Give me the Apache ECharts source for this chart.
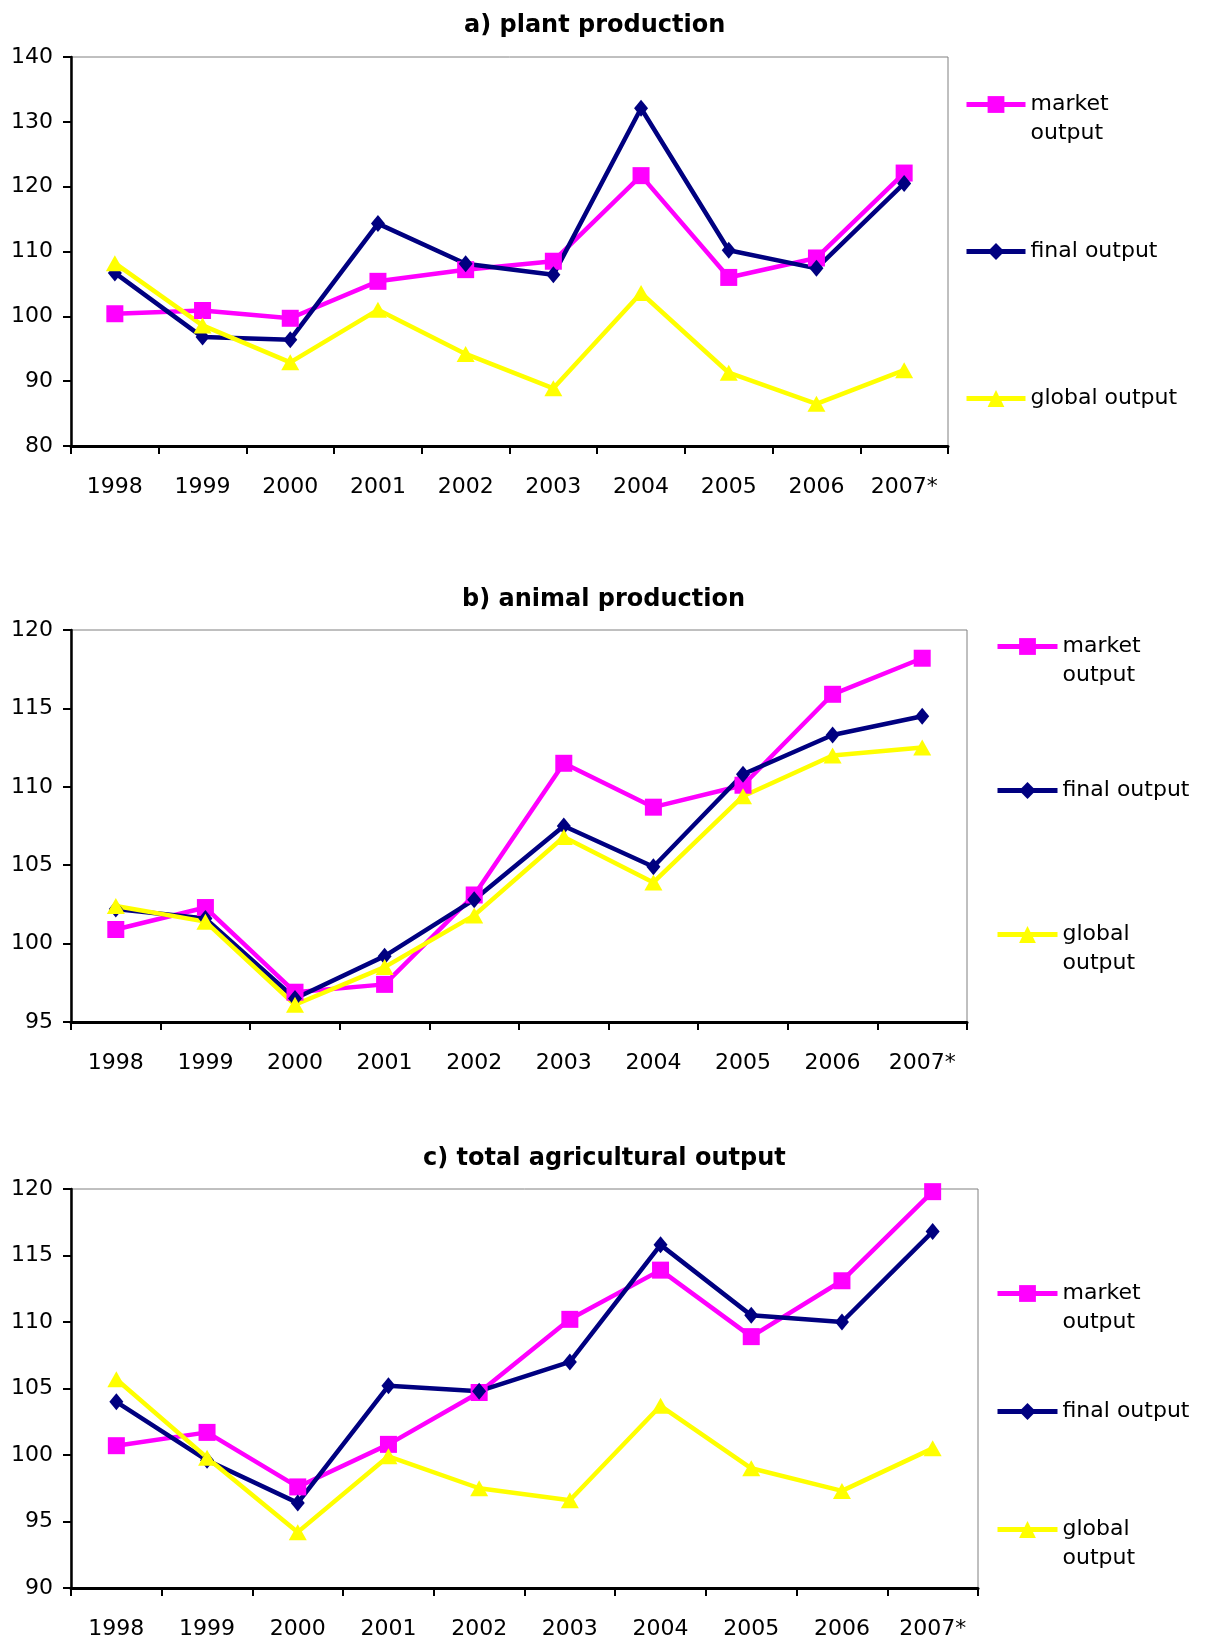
<!DOCTYPE html>
<html>
<head>
<meta charset="utf-8">
<script src="https://cdn.jsdelivr.net/npm/echarts@6/dist/echarts.min.js"></script>
<style>
html,body{margin:0;padding:0;background:#ffffff;}
#chart{width:1206px;height:1642px;}
</style>
</head>
<body>
<div id="chart"></div>
<script>
// ---- data ----
const years = ['1998','1999','2000','2001','2002','2003','2004','2005','2006','2007*'];

const panelTitles = ['a) plant production', 'b) animal production', 'c) total agricultural output'];
const seriesNames = ['market output', 'final output', 'global output'];

// a) plant production
const plantMarket = [100.4, 100.9, 99.7, 105.4, 107.2, 108.5, 121.7, 106.0, 109.0, 122.1];
const plantFinal  = [106.7, 96.8, 96.4, 114.3, 108.1, 106.4, 132.1, 110.2, 107.4, 120.5];
const plantGlobal = [108.2, 98.6, 92.9, 101.0, 94.2, 88.9, 103.6, 91.3, 86.5, 91.7];

// b) animal production
const animalMarket = [100.9, 102.3, 96.9, 97.4, 103.1, 111.5, 108.7, 110.1, 115.9, 118.2];
const animalFinal  = [102.2, 101.6, 96.5, 99.2, 102.8, 107.5, 104.9, 110.8, 113.3, 114.5];
const animalGlobal = [102.4, 101.4, 96.1, 98.5, 101.8, 106.8, 103.9, 109.4, 112.0, 112.5];

// c) total agricultural output
const totalMarket = [100.7, 101.7, 97.6, 100.8, 104.7, 110.2, 113.9, 108.9, 113.1, 119.8];
const totalFinal  = [104.0, 99.6, 96.4, 105.2, 104.8, 107.0, 115.8, 110.5, 110.0, 116.8];
const totalGlobal = [105.7, 99.8, 94.2, 99.9, 97.5, 96.6, 103.7, 99.0, 97.3, 100.5];

// y-axis ranges (tick labels)
const yMins  = [80, 95, 90];
const yMaxs  = [140, 120, 120];
const ySteps = [10, 5, 5];

// legend labels per panel
const legendLabelsA = {'market output': '\nmarket\noutput', 'final output': '\nfinal output\n', 'global output': '\nglobal output\n'};
const legendLabelsBC = {'market output': '\nmarket\noutput', 'final output': '\nfinal output\n', 'global output': '\nglobal\noutput'};

// ---- layout / style ----
const FONT = 'DejaVu Sans';
const colors = ['#FF00FF', '#000080', '#FFFF00'];
const symbols = ['rect', 'diamond', 'triangle'];
const symbolSizes = [17, [14, 17], [18, 16]];

const grids = [
  {left: 71, top: 57, width: 877, height: 389},
  {left: 71, top: 630, width: 896, height: 392},
  {left: 71, top: 1189, width: 907, height: 399}
];
const titlePos = [{left: 464, top: 12}, {left: 462, top: 586}, {left: 423, top: 1145}];
const legendPos = [
  {left: 964, top: 61, gap: 60, w: 59, labels: legendLabelsA},
  {left: 995, top: 603, gap: 57, w: 60, labels: legendLabelsBC},
  {left: 995, top: 1250, gap: 31, w: 60, labels: legendLabelsBC}
];

const panelData = [
  [plantMarket, plantFinal, plantGlobal],
  [animalMarket, animalFinal, animalGlobal],
  [totalMarket, totalFinal, totalGlobal]
];

const option = {
  animation: false,
  backgroundColor: '#ffffff',
  title: panelTitles.map((t, i) => ({
    text: t,
    left: titlePos[i].left,
    top: titlePos[i].top,
    padding: 0,
    textStyle: {fontFamily: FONT, fontWeight: 'bold', fontSize: 24, color: '#000', lineHeight: 28}
  })),
  legend: legendPos.map((lp) => ({
    orient: 'vertical',
    left: lp.left,
    top: lp.top,
    padding: 0,
    itemGap: lp.gap,
    itemWidth: lp.w,
    itemHeight: 21,
    selectedMode: false,
    data: seriesNames,
    formatter: (name) => lp.labels[name],
    lineStyle: {width: 5},
    textStyle: {fontFamily: FONT, fontSize: 22, color: '#000', lineHeight: 29}
  })),
  grid: grids.map(g => Object.assign({show: true, borderColor: '#808080', borderWidth: 1, backgroundColor: '#fff'}, g)),
  xAxis: grids.map((g, i) => ({
    type: 'category',
    gridIndex: i,
    data: years,
    boundaryGap: true,
    axisLine: {show: true, lineStyle: {color: '#000', width: 3}},
    axisTick: {show: true, length: 8, interval: 0, alignWithLabel: false, lineStyle: {color: '#000', width: 2}},
    axisLabel: {interval: 0, margin: 30, fontFamily: FONT, fontSize: 22, color: '#000'},
    splitLine: {show: false}
  })),
  yAxis: grids.map((g, i) => ({
    type: 'value',
    gridIndex: i,
    min: yMins[i],
    max: yMaxs[i],
    interval: ySteps[i],
    axisLine: {show: true, lineStyle: {color: '#000', width: 2.5}},
    axisTick: {show: true, length: 8, lineStyle: {color: '#000', width: 2}},
    axisLabel: {margin: 18, fontFamily: FONT, fontSize: 22, color: '#000'},
    splitLine: {show: false}
  })),
  series: []
};

panelData.forEach((sets, p) => {
  sets.forEach((vals, k) => {
    option.series.push({
      name: seriesNames[k],
      type: 'line',
      xAxisIndex: p,
      yAxisIndex: p,
      data: vals,
      symbol: symbols[k],
      symbolSize: symbolSizes[k],
      showAllSymbol: true,
      lineStyle: {color: colors[k], width: 4.5},
      itemStyle: {color: colors[k]},
      emphasis: {disabled: true}
    });
  });
});

const chart = echarts.init(document.getElementById('chart'), null, {renderer: 'canvas'});
chart.setOption(option);
</script>
</body>
</html>
